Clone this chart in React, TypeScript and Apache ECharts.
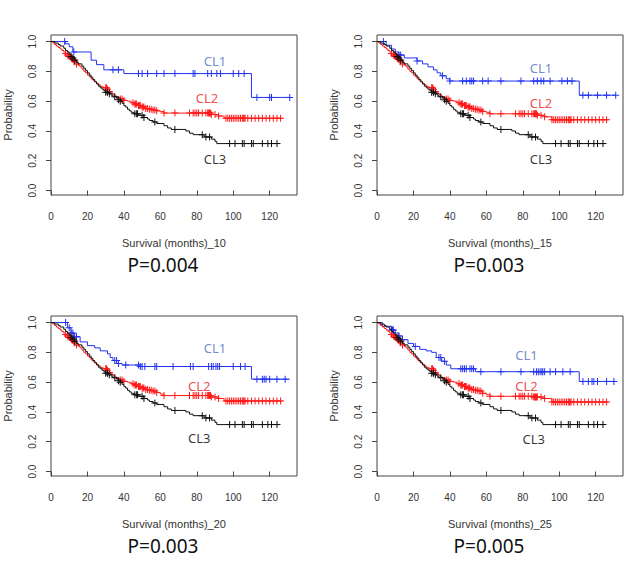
import { useEffect, useRef } from 'react';
import * as echarts from 'echarts';

// ---------- data ----------
const PANEL_SUFFIX = ['10', '15', '20', '25'];
const P_VALUES = ['P=0.004', 'P=0.003', 'P=0.003', 'P=0.005'];
const X_TICKS = [0, 20, 40, 60, 80, 100, 120];
const Y_TICKS = [0, 0.2, 0.4, 0.6, 0.8, 1.0];
const GROUPS = ['CL1', 'CL2', 'CL3'];

// CL1 (blue) Kaplan-Meier steps [month, survival] per panel
const CL1_STEPS_10 = [[0, 1], [8, 0.985], [10, 0.965], [12, 0.93], [22, 0.875], [25, 0.845], [29, 0.81], [40, 0.785], [110, 0.625], [131, 0.625]];
const CL1_STEPS_15 = [[0, 1], [5, 0.975], [8, 0.95], [10, 0.93], [12, 0.91], [15, 0.89], [22, 0.87], [25, 0.85], [28, 0.83], [31, 0.81], [33, 0.79], [35, 0.77], [38, 0.75], [40, 0.735], [111, 0.64], [131, 0.64]];
const CL1_STEPS_20 = [[0, 1], [9, 0.965], [11, 0.93], [12.5, 0.905], [16, 0.87], [20, 0.845], [24, 0.83], [27, 0.81], [31, 0.79], [32.5, 0.765], [34, 0.745], [37, 0.725], [39, 0.715], [49, 0.705], [110, 0.62], [131, 0.62]];
const CL1_STEPS_25 = [[0, 1], [3, 0.975], [8, 0.95], [10, 0.93], [12, 0.91], [14, 0.885], [17, 0.86], [20, 0.84], [23.5, 0.82], [27, 0.81], [30, 0.8], [32.5, 0.765], [35.5, 0.74], [38, 0.715], [40.5, 0.69], [54, 0.67], [111, 0.605], [131.5, 0.605]];

// CL1 censoring times per panel
const CL1_CENSOR_10 = [7.5, 12.5, 34, 37, 48, 50, 53, 58, 62, 68, 78, 79, 86, 88, 91, 93, 100, 103, 106, 113, 120, 121, 131];
const CL1_CENSOR_15 = [3.5, 12, 13, 22, 36, 40, 47, 49, 51, 52, 53, 58, 61, 68, 79, 86, 88, 90, 91.5, 95, 101.5, 104.5, 107, 113, 116, 121, 126, 131];
const CL1_CENSOR_20 = [8, 10, 11, 12, 13, 14, 35, 36, 37, 41, 48, 49, 50, 51.5, 57, 58, 67, 76.5, 78, 86.5, 88, 89, 90.5, 91.5, 92.5, 100, 104, 106.5, 113, 116, 117, 118, 120, 124, 128.5];
const CL1_CENSOR_25 = [8, 8.5, 9, 12, 14, 21, 34, 35, 37, 46, 47, 48, 49, 51, 52, 53, 57, 68, 79, 86, 87.5, 88.5, 89.5, 90.5, 91, 92, 95, 98, 102, 106, 113, 116, 118, 119, 121, 126, 130];

// CL2 (red) steps: shared early part, then per panel
const CL2_STEPS_EARLY = [[0, 1], [1, 0.99], [2, 0.98], [3, 0.97], [4, 0.96], [5, 0.95], [6, 0.94], [7, 0.93], [8, 0.92], [9, 0.91], [10, 0.9], [11, 0.89], [12, 0.88], [13, 0.865], [14, 0.85], [15, 0.84], [16, 0.83], [17, 0.815], [18, 0.8], [19, 0.79], [20, 0.775], [21, 0.765], [22, 0.75], [23, 0.74], [24, 0.73], [25, 0.72], [26, 0.71], [27, 0.7], [28, 0.695], [29, 0.69], [31, 0.68], [32, 0.665], [33, 0.655], [34, 0.645], [35, 0.635], [36, 0.625], [38, 0.615], [40, 0.605], [42, 0.6], [44, 0.59], [46, 0.58], [48, 0.57], [50, 0.56], [52, 0.55], [54, 0.545], [56, 0.54]];
const CL2_STEPS_LATE_10 = [[58, 0.535], [60, 0.53], [62, 0.52], [88, 0.51], [92, 0.5], [95, 0.485], [127, 0.485]];
const CL2_STEPS_LATE_15 = [[58, 0.53], [60, 0.525], [62, 0.515], [88, 0.505], [92, 0.495], [96, 0.475], [127, 0.475]];
const CL2_STEPS_LATE_20 = [[58, 0.53], [60, 0.52], [62, 0.51], [88, 0.5], [92, 0.49], [95, 0.474], [127, 0.474]];
const CL2_STEPS_LATE_25 = [[58, 0.525], [60, 0.515], [62, 0.505], [86, 0.5], [92, 0.49], [96, 0.467], [127, 0.467]];
const CL2_CENSOR = [8, 9, 9.5, 10, 10.5, 11, 11.5, 12, 12.5, 13, 14, 30, 30.5, 31, 32, 38, 39, 40, 45, 46, 46.5, 47, 48, 48.5, 49, 50, 50.5, 51, 52, 53, 54, 55, 56, 57, 58, 62, 68, 76, 78, 79, 80, 81, 83, 85, 86, 86.5, 87, 87.5, 88, 90, 92, 96, 97, 98, 99, 100, 101, 102, 103, 104, 105, 105.5, 106, 106.5, 108, 110, 112, 114, 116, 118, 120, 122, 124, 126];

// CL3 (black) steps, same in every panel
const CL3_STEPS = [[0, 1], [2, 0.99], [4, 0.98], [5, 0.97], [7, 0.955], [8, 0.94], [9, 0.93], [10, 0.915], [11, 0.9], [12, 0.89], [13, 0.875], [14, 0.86], [15, 0.85], [17, 0.835], [18, 0.82], [19, 0.805], [20, 0.79], [21, 0.775], [22, 0.76], [23, 0.745], [24, 0.73], [25, 0.715], [26, 0.7], [27, 0.69], [28, 0.68], [29, 0.67], [30, 0.66], [32, 0.65], [33, 0.64], [34, 0.63], [36, 0.62], [37, 0.61], [38, 0.6], [39, 0.585], [40, 0.57], [41, 0.56], [42, 0.545], [43, 0.535], [44, 0.525], [46, 0.515], [48, 0.505], [51, 0.49], [53, 0.48], [54, 0.47], [56, 0.46], [58, 0.45], [62, 0.435], [64, 0.42], [66, 0.41], [74, 0.4], [76, 0.385], [78, 0.375], [84, 0.36], [88, 0.345], [90, 0.33], [91, 0.315], [125, 0.315]];
const CL3_CENSOR = [11, 12, 13, 30, 31, 32, 35, 37, 38, 46, 47, 47.5, 50, 51, 57, 68, 83, 85, 87, 98, 101, 105, 106, 110, 111, 116, 119, 121, 124];

// ---------- layout / styles ----------
const GRID_POS = [
  { left: 51, top: 35 },
  { left: 377, top: 35 },
  { left: 51, top: 316 },
  { left: 377, top: 316 },
];
const GRID_W = 246;
const GRID_H = 160;
const LABEL_POS = [
  [[90, 0.87], [85.6, 0.62], [90, 0.21]],
  [[90, 0.82], [90, 0.59], [90, 0.21]],
  [[90, 0.83], [81.4, 0.575], [81.4, 0.224]],
  [[82, 0.78], [82, 0.573], [86, 0.22]],
];
const LINE_COLORS = ['#2233ee', '#ff1a1a', '#111111'];
const TEXT_COLORS = ['#4a6fc0', '#e82020', '#000000'];
const AXIS_FONT = 'Liberation Sans, Arial, sans-serif';
const LABEL_FONT = 'Noto Sans, sans-serif';

const PANEL_DATA = [
  { cl1: CL1_STEPS_10, cl1c: CL1_CENSOR_10, cl2: CL2_STEPS_EARLY.concat(CL2_STEPS_LATE_10) },
  { cl1: CL1_STEPS_15, cl1c: CL1_CENSOR_15, cl2: CL2_STEPS_EARLY.concat(CL2_STEPS_LATE_15) },
  { cl1: CL1_STEPS_20, cl1c: CL1_CENSOR_20, cl2: CL2_STEPS_EARLY.concat(CL2_STEPS_LATE_20) },
  { cl1: CL1_STEPS_25, cl1c: CL1_CENSOR_25, cl2: CL2_STEPS_EARLY.concat(CL2_STEPS_LATE_25) },
];

const PLUS = 'path://M3,0L4,0L4,3L7,3L7,4L4,4L4,7L3,7L3,4L0,4L0,3L3,3Z';

function survAt(steps: number[][], t: number): number {
  let v = steps[0][1];
  for (const s of steps) {
    if (s[0] <= t) v = s[1];
  }
  return v;
}

function buildOption() {
  const grid: any[] = [];
  const xAxis: any[] = [];
  const yAxis: any[] = [];
  const series: any[] = [];
  const graphic: any[] = [];

  PANEL_DATA.forEach((pd, i) => {
    const pos = GRID_POS[i];
    grid.push({
      left: pos.left, top: pos.top, width: GRID_W, height: GRID_H,
      show: true, borderColor: '#444', borderWidth: 1, backgroundColor: 'transparent',
    });
    xAxis.push({
      gridIndex: i, type: 'value', min: 0, max: 135,
      axisLine: { show: false },
      axisTick: { show: true, length: 5, customValues: X_TICKS, lineStyle: { color: '#444' } },
      axisLabel: { customValues: X_TICKS, fontSize: 10, color: '#333', fontFamily: AXIS_FONT, margin: 16 },
      splitLine: { show: false },
      name: 'Survival (months)_' + PANEL_SUFFIX[i],
      nameLocation: 'middle', nameGap: 42,
      nameTextStyle: { fontSize: 11, color: '#333', fontFamily: AXIS_FONT },
    });
    yAxis.push({
      gridIndex: i, type: 'value', min: -0.03, max: 1.044,
      axisLine: { show: false },
      axisTick: { show: true, length: 5, customValues: Y_TICKS, lineStyle: { color: '#444' } },
      axisLabel: {
        customValues: Y_TICKS, fontSize: 10, color: '#333', fontFamily: AXIS_FONT, rotate: 90, margin: 14,
        formatter: (v: number) => v.toFixed(1),
      },
      splitLine: { show: false },
      name: 'Probability', nameLocation: 'middle', nameGap: 38,
      nameTextStyle: { fontSize: 11, color: '#333', fontFamily: AXIS_FONT },
    });

    const curves = [
      { steps: pd.cl1, censor: pd.cl1c },
      { steps: pd.cl2, censor: CL2_CENSOR },
      { steps: CL3_STEPS, censor: CL3_CENSOR },
    ];
    curves.forEach((c, k) => {
      const last = c.steps[c.steps.length - 1][0];
      series.push({
        type: 'line', xAxisIndex: i, yAxisIndex: i, step: 'end',
        data: c.steps, symbol: 'none', showSymbol: false, silent: true,
        lineStyle: { color: LINE_COLORS[k], width: 1 }, z: 2 + k,
      });
      series.push({
        type: 'scatter', xAxisIndex: i, yAxisIndex: i, silent: true,
        symbol: PLUS, symbolSize: [7, 7],
        data: c.censor.filter((t) => t <= last).map((t) => [t, survAt(c.steps, t)]),
        itemStyle: { color: LINE_COLORS[k], opacity: 1 }, z: 2 + k,
      });
    });
    series.push({
      type: 'scatter', xAxisIndex: i, yAxisIndex: i, silent: true, symbolSize: 0,
      data: GROUPS.map((g, k) => ({
        name: g, value: LABEL_POS[i][k],
        label: { color: TEXT_COLORS[k] },
      })),
      label: { show: true, position: 'inside', formatter: '{b}', fontSize: 13, fontFamily: LABEL_FONT },
      z: 10,
    });

    graphic.push({
      type: 'text',
      x: pos.left + 112, y: pos.top + 230,
      style: {
        text: P_VALUES[i], fill: '#111', font: '19px Noto Sans, sans-serif',
        textAlign: 'center', textVerticalAlign: 'middle',
      },
    });
  });

  return { animation: false, backgroundColor: '#fff', grid, xAxis, yAxis, series, graphic };
}

export default function App() {
  const ref = useRef<HTMLDivElement>(null);
  useEffect(() => {
    if (!ref.current) return;
    const chart = echarts.init(ref.current, undefined, { renderer: 'svg' });
    chart.setOption(buildOption() as any);
    return () => chart.dispose();
  }, []);
  return (
    <div
      ref={ref}
      style={{ position: 'absolute', left: 0, top: 0, width: 635, height: 562, background: '#fff' }}
    />
  );
}
